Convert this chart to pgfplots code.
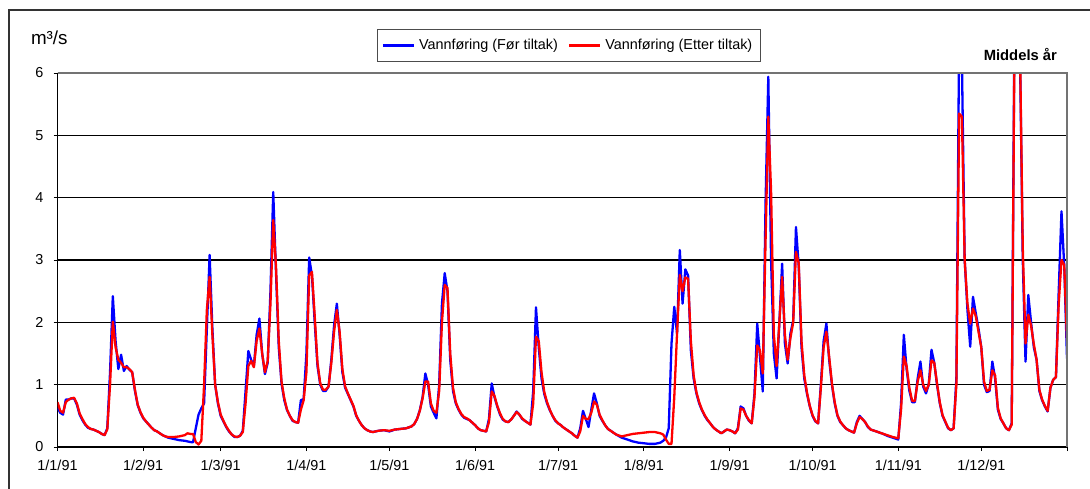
\documentclass[border=0pt]{standalone}
\usepackage{fontspec}
\setmainfont{Liberation Sans}
\usepackage{pgfplots}
\pgfplotsset{compat=1.18}
\usepackage{pgfplotstable}

% Daily discharge 1991: d = day of year (0 = 1 Jan), b = before measures, r = after measures
\pgfplotstableread{
d b r
0 0.63 0.72
1 0.55 0.58
2 0.52 0.55
3 0.76 0.72
4 0.76 0.76
5 0.78 0.78
6 0.78 0.79
7 0.68 0.70
8 0.52 0.54
9 0.43 0.45
10 0.36 0.37
11 0.31 0.32
12 0.29 0.29
13 0.28 0.28
14 0.26 0.26
15 0.24 0.24
16 0.21 0.21
17 0.19 0.19
18 0.30 0.28
19 1.20 1.00
20 2.42 2.01
21 1.70 1.60
22 1.25 1.40
23 1.48 1.35
24 1.22 1.28
25 1.30 1.28
26 1.24 1.25
27 1.20 1.20
28 0.90 0.92
29 0.67 0.68
30 0.55 0.56
31 0.46 0.47
32 0.41 0.41
33 0.36 0.36
34 0.31 0.31
35 0.27 0.27
36 0.25 0.25
37 0.22 0.22
38 0.19 0.19
39 0.17 0.17
40 0.15 0.16
42 0.13 0.16
44 0.11 0.17
46 0.10 0.19
47 0.09 0.22
48 0.08 0.21
49 0.075 0.21
50 0.30 0.08
51 0.52 0.04
52 0.62 0.10
53 0.70 1.00
54 1.90 2.20
55 3.08 2.73
56 1.90 1.80
57 1.00 1.00
58 0.70 0.72
59 0.50 0.52
60 0.41 0.42
61 0.32 0.33
62 0.25 0.26
63 0.20 0.20
64 0.16 0.17
65 0.16 0.16
66 0.18 0.18
67 0.26 0.24
68 0.90 0.70
69 1.54 1.30
70 1.40 1.38
71 1.30 1.28
72 1.80 1.70
73 2.06 1.90
74 1.50 1.50
75 1.17 1.20
76 1.35 1.38
77 2.50 2.30
78 4.09 3.64
79 2.80 2.90
80 1.60 1.70
81 1.02 1.05
82 0.75 0.78
83 0.59 0.60
84 0.50 0.50
85 0.42 0.43
86 0.40 0.40
87 0.39 0.39
88 0.75 0.60
89 0.77 0.75
90 1.50 1.20
91 3.04 2.75
92 2.75 2.81
93 2.00 2.10
94 1.30 1.35
95 1.00 1.02
96 0.90 0.92
97 0.90 0.92
98 0.97 0.97
99 1.40 1.35
100 1.95 1.85
101 2.30 2.20
102 1.80 1.85
103 1.20 1.25
104 0.95 0.97
105 0.85 0.86
106 0.75 0.76
107 0.65 0.66
108 0.50 0.51
109 0.42 0.42
110 0.35 0.35
111 0.30 0.30
112 0.27 0.27
113 0.25 0.25
114 0.24 0.24
116 0.26 0.26
118 0.27 0.27
120 0.25 0.26
122 0.28 0.28
124 0.29 0.29
126 0.30 0.30
128 0.33 0.33
129 0.37 0.37
130 0.45 0.45
131 0.59 0.58
132 0.80 0.78
133 1.18 1.05
134 1.00 1.05
135 0.65 0.70
136 0.55 0.58
137 0.46 0.55
138 1.00 0.90
139 2.30 2.00
140 2.79 2.60
141 2.50 2.55
142 1.40 1.50
143 0.90 0.95
144 0.70 0.72
145 0.60 0.61
146 0.52 0.53
147 0.47 0.48
148 0.45 0.46
149 0.43 0.43
150 0.39 0.39
151 0.35 0.35
152 0.30 0.30
153 0.27 0.27
154 0.26 0.26
155 0.25 0.25
156 0.45 0.40
157 1.02 0.89
158 0.80 0.82
159 0.65 0.66
160 0.52 0.54
161 0.44 0.45
162 0.41 0.41
163 0.40 0.40
164 0.44 0.44
165 0.50 0.50
166 0.57 0.56
167 0.52 0.52
168 0.45 0.46
169 0.42 0.42
170 0.39 0.39
171 0.36 0.36
172 0.90 0.70
173 2.24 1.77
174 1.60 1.70
175 1.10 1.20
176 0.85 0.88
177 0.70 0.72
178 0.59 0.60
179 0.50 0.50
180 0.42 0.43
181 0.38 0.38
182 0.35 0.35
183 0.31 0.31
184 0.28 0.28
185 0.25 0.25
186 0.22 0.22
187 0.18 0.18
188 0.15 0.15
189 0.30 0.25
190 0.58 0.50
191 0.45 0.45
192 0.32 0.45
193 0.60 0.55
194 0.86 0.73
195 0.70 0.68
196 0.50 0.52
197 0.42 0.43
198 0.35 0.35
199 0.29 0.29
200 0.26 0.26
202 0.20 0.20
204 0.15 0.17
206 0.12 0.19
208 0.09 0.21
210 0.07 0.22
212 0.06 0.23
214 0.05 0.24
216 0.05 0.24
218 0.07 0.22
219 0.10 0.20
220 0.15 0.12
221 0.30 0.05
222 1.66 0.05
223 2.25 0.80
224 1.82 1.82
225 3.16 2.76
226 2.30 2.50
227 2.85 2.72
228 2.75 2.70
229 1.55 1.70
230 1.10 1.15
231 0.86 0.88
232 0.70 0.72
233 0.59 0.60
234 0.50 0.51
235 0.43 0.44
236 0.38 0.38
237 0.32 0.32
238 0.28 0.28
239 0.25 0.25
240 0.22 0.22
241 0.25 0.25
242 0.28 0.28
243 0.27 0.27
244 0.25 0.25
245 0.22 0.22
246 0.30 0.28
247 0.65 0.62
248 0.62 0.60
249 0.50 0.50
250 0.42 0.43
251 0.38 0.38
252 0.86 0.80
253 1.98 1.63
254 1.44 1.55
255 0.89 1.18
256 3.90 3.30
257 5.94 5.30
258 3.00 4.10
259 1.50 1.80
260 1.10 1.30
261 2.00 2.00
262 2.94 2.73
263 1.66 1.80
264 1.34 1.40
265 1.82 1.75
266 2.03 2.00
267 3.53 3.13
268 2.90 2.95
269 1.60 1.70
270 1.10 1.15
271 0.85 0.87
272 0.65 0.66
273 0.50 0.51
274 0.41 0.42
275 0.38 0.38
276 1.00 0.95
277 1.70 1.60
278 1.98 1.85
279 1.40 1.45
280 1.00 1.02
281 0.70 0.72
282 0.50 0.51
283 0.40 0.41
284 0.35 0.35
285 0.30 0.30
286 0.27 0.27
287 0.25 0.25
288 0.23 0.23
289 0.40 0.38
290 0.50 0.48
291 0.45 0.45
292 0.40 0.40
293 0.32 0.33
294 0.28 0.28
296 0.25 0.25
298 0.22 0.22
300 0.18 0.19
302 0.15 0.16
304 0.12 0.14
305 0.70 0.60
306 1.80 1.45
307 1.25 1.30
308 0.90 0.95
309 0.72 0.74
310 0.72 0.74
311 1.10 1.05
312 1.37 1.23
313 0.97 1.00
314 0.86 0.90
315 1.00 1.00
316 1.56 1.39
317 1.35 1.35
318 1.00 1.02
319 0.70 0.72
320 0.50 0.51
321 0.40 0.41
322 0.30 0.31
323 0.27 0.27
324 0.30 0.30
325 1.10 1.00
326 6.60 5.35
327 6.20 5.30
328 3.00 3.00
329 2.20 2.30
330 1.61 1.98
331 2.41 2.22
332 2.15 2.10
333 1.90 1.85
334 1.60 1.60
335 1.00 1.05
336 0.88 0.90
337 0.90 0.92
338 1.37 1.23
339 1.10 1.15
340 0.60 0.63
341 0.45 0.46
342 0.38 0.38
343 0.30 0.30
344 0.27 0.27
345 0.38 0.36
346 6.80 6.50
347 7.20 7.00
348 6.30 6.40
349 3.00 3.20
350 1.37 1.66
351 2.44 2.12
352 2.00 1.95
353 1.60 1.65
354 1.40 1.40
355 0.90 0.92
356 0.75 0.76
357 0.65 0.66
358 0.57 0.58
359 0.95 0.95
360 1.08 1.08
361 1.12 1.12
362 2.50 2.30
363 3.78 3.00
364 2.90 2.92
365 1.42 1.70
}\flow

\begin{document}
\begin{tikzpicture}[x=1pt,y=1pt]
\path[use as bounding box] (0,0) rectangle (545,244);
% outer chart frame (only its left and top edges fall on the page)
\begin{scope}
  \clip (0,0) rectangle (545,244);
  \draw[black!80, line width=0.6pt] (4.5,-10) rectangle (560,239);
\end{scope}
\node[anchor=base west, font=\fontsize{9.4}{11}\selectfont] at (12,221.5) {m³/s};
\node[anchor=base east, font=\bfseries\fontsize{7.4}{9}\selectfont] at (532,213.5) {Middels år};
\begin{axis}[
  at={(28.75pt,20.5pt)}, anchor=south west,
  scale only axis, width=504.75pt, height=187pt,
  xmin=0, xmax=365, ymin=0, ymax=6,
  clip mode=individual,
  axis x line*=bottom, axis y line*=left,
  axis line style={black, line width=0.7pt},
  tick align=outside, major tick length=2pt,
  tick style={black, line width=0.5pt},
  xtick={0,31,59,90,120,151,181,212,243,273,304,334,365},
  xticklabels={1/1/91,1/2/91,1/3/91,1/4/91,1/5/91,1/6/91,1/7/91,1/8/91,1/9/91,1/10/91,1/11/91,1/12/91,{}},
  ytick={0,1,2,3,4,5,6},
  ymajorgrids, major grid style={black, line width=0.6pt},
  /pgf/number format/assume math mode=true,
  ticklabel style={font=\fontsize{7.2}{8}\selectfont},
  yticklabel style={xshift=-1.5pt},
  xticklabel style={yshift=-1pt},
  legend columns=2,
  legend image code/.code={\draw[#1] (0pt,0pt) -- (15.5pt,0pt);},
  legend style={at={(0.5067,1.0735)}, anchor=center, draw=black!70,
    line width=0.5pt, font=\fontsize{7.2}{8}\selectfont,
    inner xsep=2pt, inner ysep=2.5pt,
    /tikz/every even column/.append style={column sep=3pt}},
]
\addplot[blue, line width=1.15pt, line join=round] table[x=d, y=b] {\flow};
\addlegendentry{Vannføring (Før tiltak)}
\addplot[red, line width=1.15pt, line join=round] table[x=d, y=r] {\flow};
\addlegendentry{Vannføring (Etter tiltak)}
% plot area border, top and right
\draw[black!55, line width=0.7pt] (rel axis cs:0,1) -- (rel axis cs:1,1) -- (rel axis cs:1,0);
\end{axis}
\end{tikzpicture}
\end{document}
